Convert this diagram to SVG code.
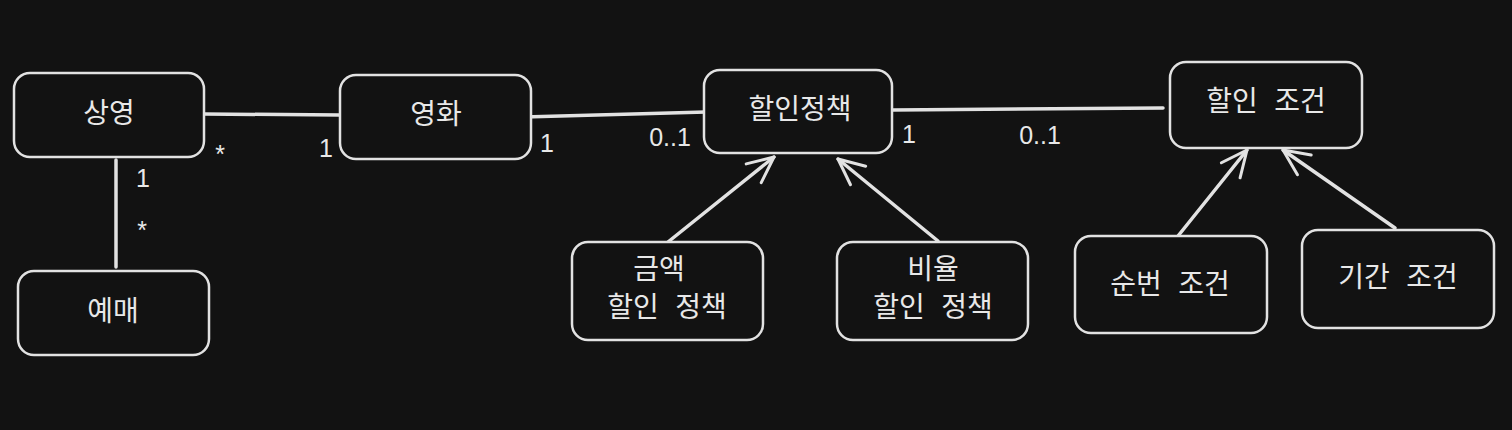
<svg xmlns="http://www.w3.org/2000/svg" width="1512" height="430" viewBox="0 0 1512 430">
<defs>
<marker id="arr" viewBox="0 0 30 30" refX="28" refY="15" markerWidth="30" markerHeight="30" markerUnits="userSpaceOnUse" orient="auto">
<path d="M2,3 L28,15 L2,27" fill="none" stroke="#e2e2e2" stroke-width="3" stroke-linecap="round" stroke-linejoin="round"/>
</marker>
</defs>
<style>
.box{fill:#121212;stroke:#e2e2e2;stroke-width:2.5}
.t{font-family:"Noto Sans CJK KR","Noto Sans",sans-serif;font-size:28px;fill:#e8e8e8;text-anchor:middle;dominant-baseline:central;word-spacing:10px}
.c{fill:none;stroke:#e2e2e2;stroke-width:3.5;stroke-linecap:round}
.l{font-family:"Liberation Sans","Noto Sans",sans-serif;font-size:25px;fill:#e8e8e8;text-anchor:middle;dominant-baseline:central}
</style>
<rect width="1512" height="430" fill="#121212"/>
<g id="connectors">
<line class="c" x1="204" y1="114" x2="340" y2="115"/>
<line class="c" x1="524" y1="117" x2="706" y2="112"/>
<line class="c" x1="893" y1="110" x2="1163" y2="108"/>
<line class="c" x1="116" y1="160" x2="116" y2="267"/>
<line class="c" x1="668" y1="242" x2="774" y2="157" marker-end="url(#arr)"/>
<line class="c" x1="938" y1="241" x2="838" y2="159" marker-end="url(#arr)"/>
<line class="c" x1="1178" y1="236" x2="1247" y2="150" marker-end="url(#arr)"/>
<line class="c" x1="1395" y1="228" x2="1283" y2="150" marker-end="url(#arr)"/>
<text class="l" x="220" y="154">*</text>
<text class="l" x="326" y="148">1</text>
<text class="l" x="547" y="143">1</text>
<text class="l" x="670" y="137">0..1</text>
<text class="l" x="909" y="134">1</text>
<text class="l" x="1040" y="135">0..1</text>
<text class="l" x="143" y="178">1</text>
<text class="l" x="142" y="230">*</text>
</g>
<g id="screening"><rect class="box" x="14" y="73" width="190" height="84" rx="16"/><text class="t" x="109" y="111">상영</text></g>
<g id="movie"><rect class="box" x="340" y="75" width="191" height="84" rx="16"/><text class="t" x="436" y="112">영화</text></g>
<g id="discount-policy"><rect class="box" x="704" y="70" width="188" height="83" rx="16"/><text class="t" x="800" y="107">할인정책</text></g>
<g id="discount-condition"><rect class="box" x="1170" y="62" width="192" height="86" rx="16"/><text class="t" x="1266" y="99">할인 조건</text></g>
<g id="reservation"><rect class="box" x="18" y="271" width="191" height="84" rx="16"/><text class="t" x="113" y="309">예매</text></g>
<g id="amount-policy"><rect class="box" x="572" y="242" width="191" height="98" rx="16"/><text class="t" x="659" y="267">금액</text><text class="t" x="667" y="305">할인 정책</text></g>
<g id="percent-policy"><rect class="box" x="837" y="242" width="191" height="98" rx="16"/><text class="t" x="933" y="267">비율</text><text class="t" x="933" y="305">할인 정책</text></g>
<g id="sequence-condition"><rect class="box" x="1075" y="236" width="192" height="97" rx="16"/><text class="t" x="1170" y="282">순번 조건</text></g>
<g id="period-condition"><rect class="box" x="1302" y="230" width="192" height="98" rx="16"/><text class="t" x="1398" y="275">기간 조건</text></g>
</svg>
